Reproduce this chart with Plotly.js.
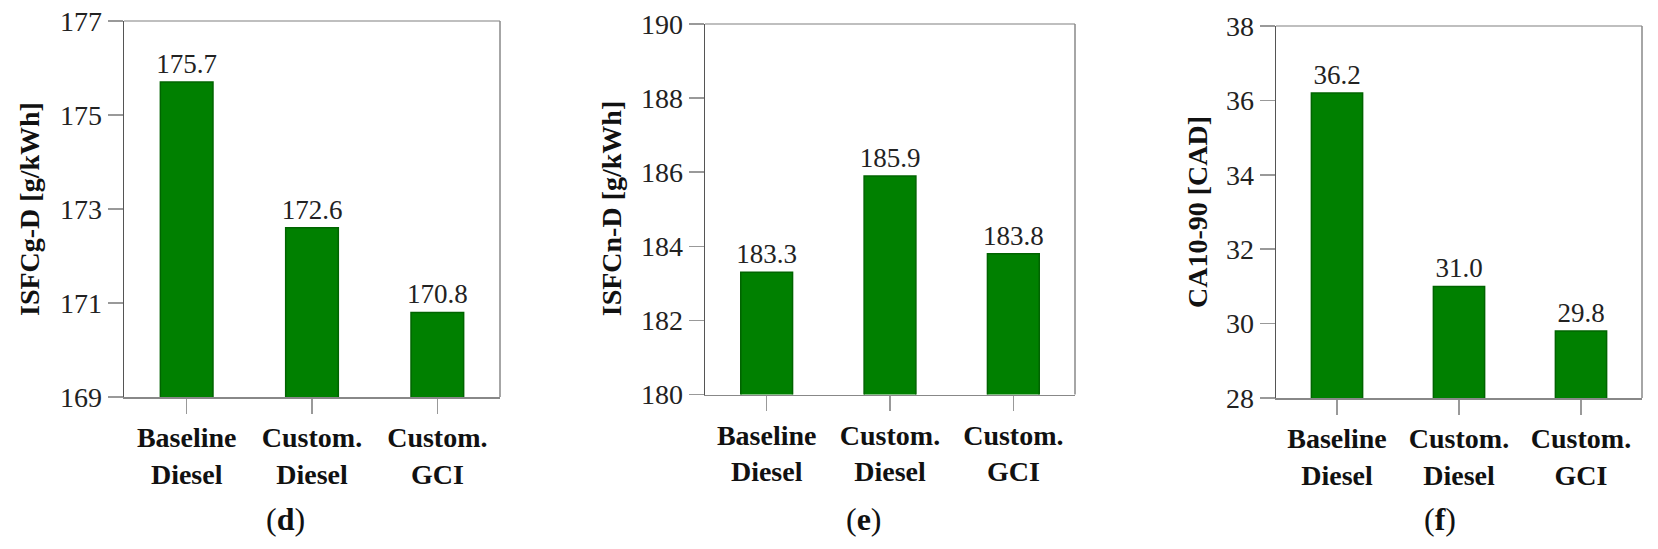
<!DOCTYPE html>
<html>
<head>
<meta charset="utf-8">
<script src="https://cdn.plot.ly/plotly-3.0.1.min.js"></script>
<style>html,body{margin:0;padding:0;background:#fff;}#chart{width:1658px;height:549px;}</style>
</head>
<body>
<div id="chart"></div>
<script>
// ---- data ----
const categories = ["Baseline<br>Diesel", "Custom.<br>Diesel", "Custom.<br>GCI"];
const isfcGD = [175.7, 172.6, 170.8];
const isfcND = [183.3, 185.9, 183.8];
const ca1090 = [36.2, 31.0, 29.8];
const labelsGD = ["175.7", "172.6", "170.8"];
const labelsND = ["183.3", "185.9", "183.8"];
const labelsCA = ["36.2", "31.0", "29.8"];
const yTitles = ["ISFCg-D [g/kWh]", "ISFCn-D [g/kWh]", "CA10-90 [CAD]"];
const panelLabels = ["(<b>d</b>)", "(<b>e</b>)", "(<b>f</b>)"];

// ---- layout helpers ----
const W = 1658, H = 549;
const px = v => v / W;
const py = v => (H - v) / H;
const FONT = "Liberation Serif";
const catIdx = categories.map((_, i) => i);

function barTrace(vals, labels, ax) {
  return {
    type: "bar", x: catIdx, y: vals, text: labels,
    textposition: "outside", cliponaxis: false, constraintext: "none",
    textfont: {family: FONT, size: 27, color: "#222"},
    marker: {color: "rgb(0,128,0)", line: {color: "rgb(0,100,0)", width: 1.5}},
    width: 0.42, xaxis: "x" + ax, yaxis: "y" + ax, hoverinfo: "skip", showlegend: false
  };
}

const panels = [
  {vals: isfcGD, labels: labelsGD, x0: 124, x1: 500, top: 21, bot: 397, yr: [169, 177], xr: [-0.5, 2.5], tx: 29, lx: 285},
  {vals: isfcND, labels: labelsND, x0: 705, x1: 1075, top: 24, bot: 394.5, yr: [180, 190], xr: [-0.5, 2.5], tx: 611, lx: 864},
  {vals: ca1090, labels: labelsCA, x0: 1276, x1: 1642, top: 26, bot: 398, yr: [28, 38], xr: [-0.5, 2.5], tx: 1198, lx: 1440}
];

const data = [];
const layout = {
  width: W, height: H, margin: {l: 0, r: 0, t: 0, b: 0},
  paper_bgcolor: "#fff", plot_bgcolor: "#fff",
  font: {family: FONT, color: "#222"},
  annotations: [], shapes: [], bargap: 0.5
};

panels.forEach((p, i) => {
  const n = i + 1;
  const ax = n === 1 ? "" : String(n);
  data.push(barTrace(p.vals, p.labels, ax));
  layout["xaxis" + ax] = {
    domain: [px(p.x0), px(p.x1)], range: p.xr, anchor: "y" + ax,
    tickvals: catIdx, ticktext: categories,
    tickfont: {family: FONT, size: 28, color: "#111", weight: "bold"},
    ticks: "outside", ticklen: 15, tickwidth: 1.5, tickcolor: "#999",
    showline: true, linecolor: "#888", linewidth: 1.5,
    showgrid: false, zeroline: false, fixedrange: true
  };
  layout["yaxis" + ax] = {
    domain: [py(p.bot), py(p.top)], range: p.yr, anchor: "x" + ax,
    dtick: 2, tick0: p.yr[0],
    tickfont: {family: FONT, size: 28, color: "#222"},
    ticks: "outside", ticklen: 15, tickwidth: 1.5, tickcolor: "#999",
    showline: true, linecolor: "#555", linewidth: 1.5,
    showgrid: false, zeroline: false, fixedrange: true
  };
  // top and right frame lines (lighter grey)
  layout.shapes.push({type: "line", xref: "paper", yref: "paper",
    x0: px(p.x0), x1: px(p.x1), y0: py(p.top), y1: py(p.top),
    line: {color: "#aaa", width: 1.5}});
  layout.shapes.push({type: "line", xref: "paper", yref: "paper",
    x0: px(p.x1), x1: px(p.x1), y0: py(p.top), y1: py(p.bot),
    line: {color: "#888", width: 1.5}});
  // y-axis title
  layout.annotations.push({
    text: "<b>" + yTitles[i] + "</b>", textangle: -90, showarrow: false,
    xref: "paper", yref: "paper", x: px(p.tx), y: py((p.top + p.bot) / 2),
    xanchor: "center", yanchor: "middle",
    font: {family: FONT, size: 28, color: "#111"}
  });
  // panel label
  layout.annotations.push({
    text: panelLabels[i], showarrow: false,
    xref: "paper", yref: "paper", x: px(p.lx), y: py(519),
    xanchor: "center", yanchor: "middle",
    font: {family: FONT, size: 32, color: "#111"}
  });
});

Plotly.newPlot("chart", data, layout, {displayModeBar: false, staticPlot: true});
</script>
</body>
</html>
